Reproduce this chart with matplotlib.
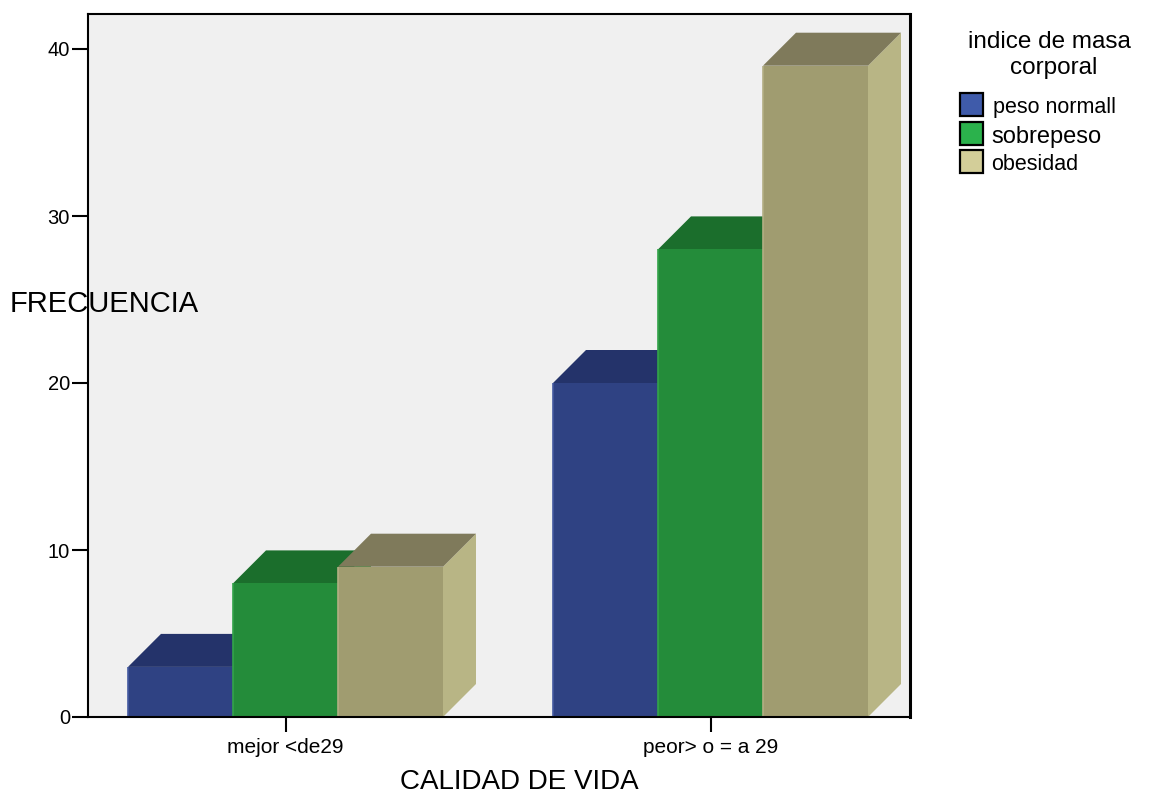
import matplotlib
matplotlib.use('Agg')
import matplotlib.pyplot as plt
from matplotlib.patches import Polygon, Rectangle
import numpy as np

plt.rcParams['font.family'] = ['Liberation Sans', 'DejaVu Sans']

# ---- data ----
categories = ['mejor <de29', 'peor> o = a 29']
series_names = ['peso normall', 'sobrepeso', 'obesidad']
peso_normal = [3, 20]
sobrepeso = [8, 28]
obesidad = [9, 39]
y_ticks = [0, 10, 20, 30, 40]

series_values = [peso_normal, sobrepeso, obesidad]
front_colors = ['#2F4283', '#248C3A', '#A09C70']
top_colors = ['#24336A', '#1B6E2C', '#7F7A5B']
side_colors = ['#3A4F95', '#2FA344', '#B8B585']
edge_colors = ['#4459A0', '#33A34A', '#B3AF84']
legend_colors = ['#3F5BAA', '#2BB24C', '#D3CE99']
legend_sizes = [15.5, 17, 15.5]

W, H = 1149, 796
fig = plt.figure(figsize=(W / 100, H / 100), dpi=100)
ax = fig.add_axes([88 / W, 1 - 717 / H, 822 / W, 703 / H])
ax.set_facecolor('#F0F0F0')

bar_w = 105 / 425
dx = 33 / 425
dy = 33 / 16.7
x = np.arange(len(categories))

for i, vals in enumerate(series_values):
    xs = x + (i - 1) * bar_w
    base = 2 + 3 * i
    ax.bar(xs, vals, width=bar_w, color=front_colors[i], edgecolor='none',
           zorder=base + 2)
    for xc, h in zip(xs, vals):
        x0, x1 = xc - bar_w / 2, xc + bar_w / 2
        top = Polygon([(x0, h), (x0 + dx, h + dy), (x1 + dx, h + dy), (x1, h)],
                      closed=True, facecolor=top_colors[i], edgecolor='none',
                      zorder=base + 1)
        side = Polygon([(x1, 0), (x1 + dx, dy), (x1 + dx, h + dy), (x1, h)],
                       closed=True, facecolor=side_colors[i], edgecolor='none',
                       zorder=base)
        ax.add_patch(side)
        ax.add_patch(top)
        ax.plot([x0, x0], [0, h], color=edge_colors[i], lw=1.2, zorder=base + 2.5,
                solid_capstyle='butt')

ax.set_xlim((88 - 285.5) / 425, (910 - 285.5) / 425)
ax.set_ylim(0, 703 / 16.7)
ax.set_xticks(x)
ax.set_xticklabels(categories)
ax.set_yticks(y_ticks)
ax.set_yticklabels([str(t) for t in y_ticks])
ax.tick_params(axis='y', direction='out', length=11.5, width=1.5, pad=1.5,
               labelsize=14.5, colors='black')
ax.tick_params(axis='x', direction='out', length=11, width=1.5, pad=4,
               labelsize=15, colors='black')
for s in ax.spines.values():
    s.set_linewidth(1.5)
    s.set_color('black')
    s.set_zorder(20)
ax.spines['right'].set_linewidth(2.2)

ax.set_ylabel('FRECUENCIA', rotation=0, fontsize=21, ha='center', va='center')
ax.yaxis.set_label_coords((104 - 88) / 822, (717 - 304) / 703)
ax.set_xlabel('CALIDAD DE VIDA', fontsize=20, ha='center', va='baseline')
ax.xaxis.set_label_coords((519 - 88) / 822, (717 - 789) / 703)

# ---- legend (drawn in pixel coordinates) ----
oax = fig.add_axes([0, 0, 1, 1])
oax.set_xlim(0, W)
oax.set_ylim(H, 0)
oax.axis('off')
oax.text(1049, 47.5, 'indice de masa', ha='center', va='baseline', fontsize=17.5)
oax.text(1054, 74, 'corporal', ha='center', va='baseline', fontsize=17.5)
sw_y = [93, 121.5, 150]
txt_x = [993, 991, 991]
txt_base = [113, 142.5, 169.5]
for i, name in enumerate(series_names):
    oax.add_patch(Rectangle((960, sw_y[i]), 23, 23, facecolor=legend_colors[i],
                            edgecolor='black', lw=1.6))
    oax.text(txt_x[i], txt_base[i], name, ha='left', va='baseline',
             fontsize=legend_sizes[i])

fig.savefig('out.png', dpi=100)
